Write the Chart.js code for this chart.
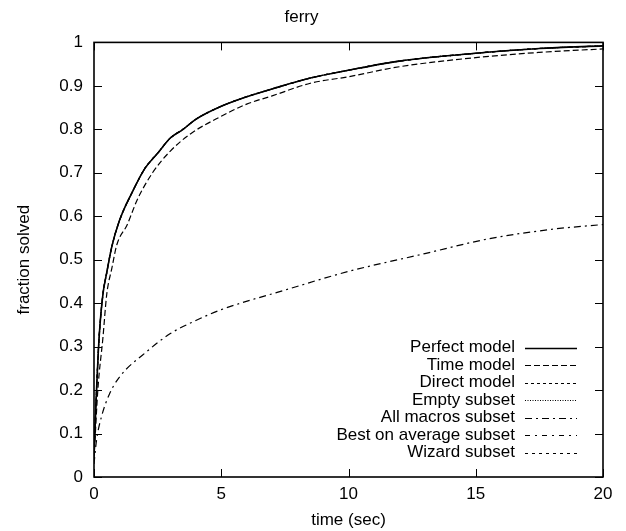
<!DOCTYPE html>
<html>
<head>
<meta charset="utf-8">
<script src="https://cdn.jsdelivr.net/npm/chart.js"></script>
<style>
  html, body { margin: 0; padding: 0; background: #fff; }
  #wrap { width: 626px; height: 531px; }
</style>
</head>
<body>
<div id="wrap"><canvas id="chart" width="626" height="531"></canvas></div>
<script>
// values
const perfectX = [0, 0.1, 0.2, 0.35, 0.5, 0.7, 1.0, 1.5, 2.0, 2.5, 3.0, 3.5, 4, 5, 6, 7, 8.5, 10, 12, 15, 17.5, 20];
const perfectY = [0.05, 0.2, 0.32, 0.42, 0.47, 0.53, 0.59, 0.655, 0.71, 0.745, 0.78, 0.8, 0.823, 0.853, 0.875, 0.893, 0.918, 0.936, 0.957, 0.975, 0.986, 0.992];

const timeX = [0, 0.15, 0.35, 0.5, 0.7, 0.9, 1.3, 1.7, 2.3, 3.0, 3.8, 5, 6, 7, 8.5, 10, 12, 15, 17.5, 20];
const timeY = [0.04, 0.2, 0.32, 0.42, 0.48, 0.535, 0.58, 0.638, 0.7, 0.75, 0.79, 0.83, 0.858, 0.877, 0.906, 0.921, 0.944, 0.965, 0.977, 0.985];

const macrosX = [0, 0.1, 0.3, 0.6, 1, 2, 3, 4, 5, 7.5, 10, 13, 15.5, 18, 20];
const macrosY = [0.03, 0.085, 0.14, 0.19, 0.23, 0.285, 0.33, 0.36, 0.385, 0.43, 0.473, 0.514, 0.548, 0.57, 0.581];

const xTicks = [0, 5, 10, 15, 20];
const yTicks = [0, 0.1, 0.2, 0.3, 0.4, 0.5, 0.6, 0.7, 0.8, 0.9, 1];

const FONT = "'Liberation Sans', Arial, sans-serif";

function pts(xs, ys) {
    return xs.map((x, i) => ({ x: x, y: ys[i] }));
}

function series(label, xs, ys, dash, width) {
    return {
        label: label,
        data: pts(xs, ys),
        borderColor: '#000',
        borderWidth: width || 1.2,
        borderDash: dash,
        pointRadius: 0,
        fill: false,
        cubicInterpolationMode: 'monotone'
    };
}

// series not visible in the picture lie under the solid line
const datasets = [
    series('Perfect model', perfectX, perfectY, [], 1.6),
    series('Time model', timeX, timeY, [6, 3]),
    series('Direct model', perfectX, perfectY, [3, 3]),
    series('Empty subset', perfectX, perfectY, [1, 1.5]),
    series('All macros subset', macrosX, macrosY, [7, 4, 2, 4]),
    series('Best on average subset', perfectX, perfectY, [5, 5, 2, 5]),
    series('Wizard subset', perfectX, perfectY, [3, 4])
];

// gnuplot style frame, inward mirrored ticks and key
const framePlugin = {
    id: 'frame',
    afterDraw(chart) {
        const ctx = chart.ctx;
        const a = chart.chartArea;
        const xs = chart.scales.x, ys = chart.scales.y;
        ctx.save();
        ctx.strokeStyle = '#000';
        ctx.lineWidth = 1;
        ctx.beginPath();
        xTicks.forEach(v => {
            const px = Math.round(xs.getPixelForValue(v)) + 0.5;
            ctx.moveTo(px, a.bottom); ctx.lineTo(px, a.bottom - 8);
            ctx.moveTo(px, a.top); ctx.lineTo(px, a.top + 8);
        });
        yTicks.forEach(v => {
            const py = Math.round(ys.getPixelForValue(v)) + 0.5;
            ctx.moveTo(a.left, py); ctx.lineTo(a.left + 8, py);
            ctx.moveTo(a.right, py); ctx.lineTo(a.right - 8, py);
        });
        ctx.stroke();
        ctx.lineWidth = 1.6;
        ctx.strokeRect(a.left, a.top, a.right - a.left, a.bottom - a.top);

        // key
        ctx.font = '17px ' + FONT;
        ctx.fillStyle = '#000';
        ctx.textAlign = 'right';
        ctx.textBaseline = 'middle';
        chart.data.datasets.forEach((ds, i) => {
            const y = 347.5 + i * 17.5;
            ctx.fillText(ds.label, 515, y);
            ctx.beginPath();
            ctx.lineWidth = ds.borderWidth;
            ctx.setLineDash(ds.borderDash);
            ctx.moveTo(525, Math.round(y) + 0.5);
            ctx.lineTo(577, Math.round(y) + 0.5);
            ctx.stroke();
        });
        ctx.restore();
    }
};

new Chart(document.getElementById('chart'), {
    type: 'line',
    data: { datasets: datasets },
    options: {
        responsive: false,
        animation: false,
        layout: { padding: { top: 0, right: 23, left: 0, bottom: 0 } },
        plugins: {
            legend: { display: false },
            tooltip: { enabled: false },
            title: {
                display: true,
                text: 'ferry',
                color: '#000',
                font: { family: FONT, size: 17, weight: 'normal' },
                padding: { top: 7, bottom: 15 }
            }
        },
        scales: {
            x: {
                type: 'linear',
                min: 0,
                max: 20,
                afterFit: s => { s.height = 54; },
                afterBuildTicks: s => { s.ticks = xTicks.map(v => ({ value: v })); },
                grid: { display: false, drawTicks: false },
                border: { display: false },
                ticks: {
                    color: '#000',
                    padding: 7,
                    maxRotation: 0,
                    font: { family: FONT, size: 17 }
                },
                title: {
                    display: true,
                    text: 'time (sec)',
                    color: '#000',
                    font: { family: FONT, size: 17 },
                    padding: { top: 0, bottom: 0 }
                }
            },
            y: {
                type: 'linear',
                min: 0,
                max: 1,
                afterFit: s => { s.width = 94; },
                afterBuildTicks: s => { s.ticks = yTicks.map(v => ({ value: v })); },
                grid: { display: false, drawTicks: false },
                border: { display: false },
                ticks: {
                    color: '#000',
                    padding: 11,
                    font: { family: FONT, size: 17 },
                    callback: v => String(Math.round(v * 10) / 10)
                },
                title: {
                    display: true,
                    text: 'fraction solved',
                    color: '#000',
                    font: { family: FONT, size: 17 },
                    padding: { top: 14, bottom: 0 }
                }
            }
        }
    },
    plugins: [framePlugin]
});
</script>
</body>
</html>
